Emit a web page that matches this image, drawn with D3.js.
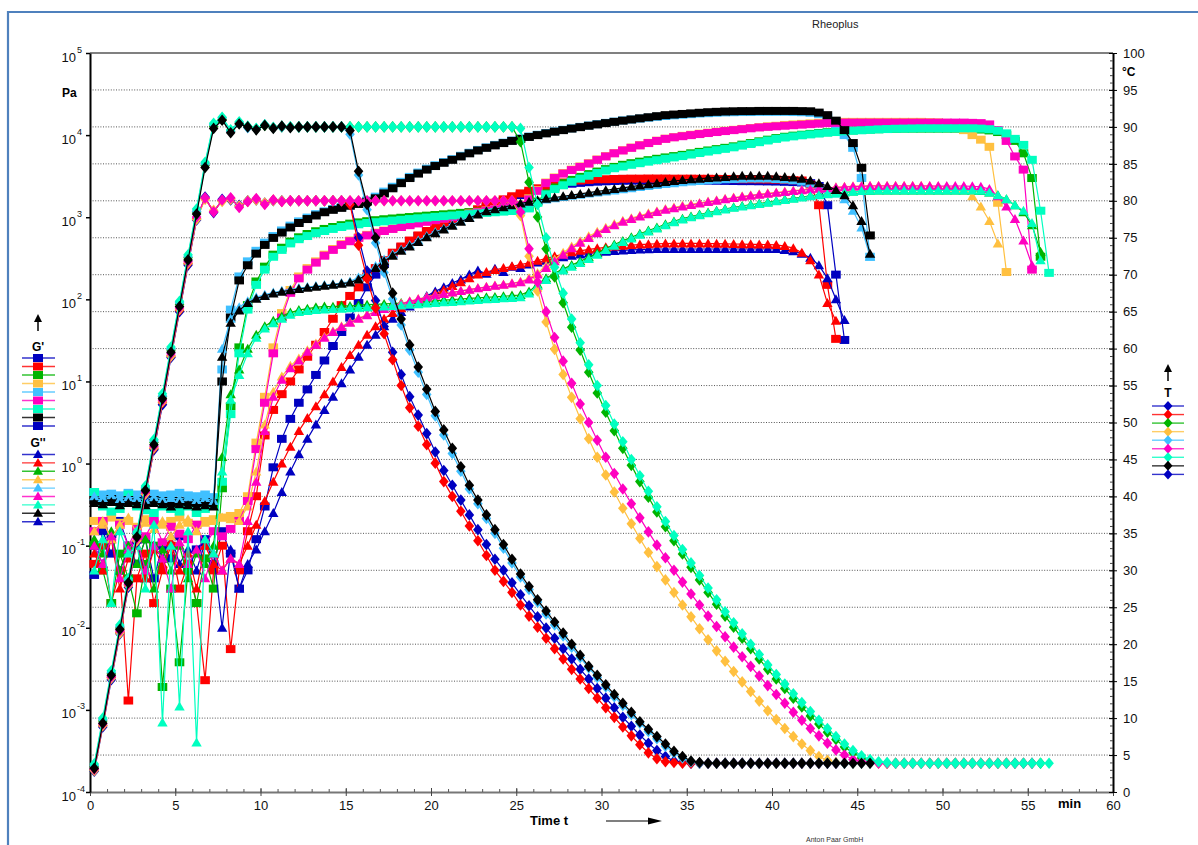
<!DOCTYPE html>
<html>
<head>
<meta charset="utf-8">
<script src="https://cdn.jsdelivr.net/npm/d3@7/dist/d3.min.js"></script>
<style>
html,body{margin:0;padding:0;background:#fff;}
svg{display:block;}
text{font-family:"Liberation Sans",Arial,Helvetica,sans-serif;}
</style>
</head>
<body>
<svg id="chart" width="1198" height="845"></svg>
<script>
// ================= DATA =================
const sampleColors = ["#0000c0","#ff0000","#00b400","#ffc040","#40c0ff","#ff00c0","#00ffc0","#000000","#0000c0"];
const timeStart = 0.25, timeStep = 0.5;           // minutes (measuring-point grid)
const timeTicks = [0,5,10,15,20,25,30,35,40,45,50,55,60];
const gTicks = [1e-4,1e-3,1e-2,1e-1,1e0,1e1,1e2,1e3,1e4,1e5];
const tempTicks = [0,5,10,15,20,25,30,35,40,45,50,55,60,65,70,75,80,85,90,95,100];

// ---- Temperature T [°C] ----
const tBlue = [2.8,8.8,15.2,21.4,27.7,33.8,40.1,46.3,52.4,58.8,
65,71.3,77.4,80.5,78.4,80.2,80.1,79.4,80,80.1,
79.7,80,80,80,80,80,80,80,80,80,
79.8,75,70.5,66.5,63,59.5,56.5,53.5,51,48.5,
46,43.5,41.5,39.5,37.5,35.5,33.5,31.5,30,28.3,
26.7,25.2,23.7,22.2,20.8,19.4,18,16.6,15.3,14,
12.7,11.4,10.1,8.9,7.7,6.6,5.6,4.8,4.2,4,
3.9,3.9,3.9,3.9,3.9,3.9,3.9,3.9,3.9,3.9,
3.9,3.9,3.9,3.9,3.9,3.9,3.9,3.9,3.9];
const tRed = [3,9,15.5,21.6,28,34,40.4,46.5,52.7,59,
65.2,71.5,77.6,80.3,78.6,80,80.3,79.2,79.9,80.2,
79.6,80.1,79.9,80,80,80,80,80,80,80,
79.5,74,69.5,65.5,62,58.5,55,52,49.5,47,
44.5,42,40,38,36,34,32,30,28.5,27,
25.3,23.8,22.3,20.8,19.4,18,16.6,15.3,14,12.7,
11.4,10.1,8.8,7.6,6.4,5.3,4.5,4.1,4,3.9,
3.9,3.9,3.9,3.9,3.9,3.9,3.9,3.9,3.9,3.9,
3.9,3.9,3.9,3.9,3.9,3.9,3.9,3.9];
const tGreen = [3.4,9.6,16,22.2,28.5,34.8,41,47.3,53.5,59.8,
66,72.3,78.5,84.8,90.1,91,89.4,90.5,90,89.7,
90.2,89.9,90,90,90,90,90,90,90,90,
90,90,90,90,90,90,90,90,90,90,
90,90,90,90,90,90,90,90,90,90,
88,82.5,77.8,73.5,69.7,66.2,62.9,59.8,56.8,54,
51.4,48.9,46.5,44.2,42,39.9,37.9,35.9,34,32.2,
30.4,28.7,27,25.4,23.8,22.3,20.8,19.4,18,16.6,
15.3,14,12.7,11.5,10.3,9.2,8.1,7.1,6.1,5.3,
4.6,4.2,4,3.9,3.9,3.9,3.9,3.9,3.9,3.9,
3.9,3.9,3.9,3.9,3.9,3.9,3.9,3.9,3.9,3.9,
3.9,3.9];
const tOrange = [2.9,9,15.4,21.5,27.9,34,40.3,46.6,52.8,59,
65.3,71.6,77.5,80.2,78.7,79.9,80.2,79.3,80,80.1,
79.7,80,80,80,80,80,80,80,80,80,
80,80,80,80,80,80,80,80,80,80,
80,80,80,80,80,80,80,80,80,80,
78,72.5,67.8,63.6,59.9,56.5,53.4,50.5,47.8,45.3,
42.9,40.6,38.4,36.3,34.3,32.4,30.5,28.7,27,25.3,
23.7,22.1,20.6,19.1,17.7,16.3,14.9,13.6,12.3,11,
9.8,8.6,7.5,6.5,5.6,4.8,4.3,4,3.9,3.9,
3.9,3.9,3.9,3.9,3.9,3.9,3.9,3.9,3.9,3.9,
3.9,3.9,3.9,3.9,3.9,3.9,3.9,3.9];
const tLightBlue = [3.6,9.8,16.2,22.4,28.7,35,41.2,47.5,53.6,60,
66.2,72.5,78.6,85,90.3,91.2,89.4,90.6,89.9,89.7,
90.3,89.9,90,90,90,90,90,90,90,90,
89,83.5,78.8,74.3,70.3,66.7,63.2,59.8,56.8,53.8,
50.9,48.3,45.8,43.4,41,39,37,35,33,31,
29.1,27.4,25.7,24.1,22.6,21.1,19.6,18.2,16.8,15.5,
14.2,12.9,11.7,10.5,9.3,8.2,7.2,6.2,5.3,4.6,
4.1,3.9,3.9,3.9,3.9,3.9,3.9,3.9,3.9,3.9,
3.9,3.9,3.9,3.9,3.9,3.9,3.9,3.9,3.9,3.9,
3.9,3.9];
const tMagenta = [3.1,9.2,15.6,21.8,28.1,34.3,40.6,46.8,53,59.3,
65.5,71.8,77.8,80.4,78.5,80.1,80.4,79.1,79.9,80.3,
79.5,80.1,79.9,80,80,80,80,80,80,80,
80,80,80,80,80,80,80,80,80,80,
80,80,80,80,80,80,80,80,80,80,
78.5,73.5,69,65,61.5,58.3,55.3,52.5,50,47.6,
45.3,43.1,41,39,37.1,35.2,33.4,31.7,30,28.4,
26.8,25.3,23.8,22.4,21,19.6,18.3,17,15.7,14.4,
13.2,12,10.8,9.7,8.6,7.6,6.6,5.7,5,4.4,
4.1,4,3.9,3.9,3.9,3.9,3.9,3.9,3.9,3.9,
3.9,3.9,3.9,3.9,3.9,3.9,3.9,3.9,3.9,3.9,
3.9];
const tAqua = [3.8,10,16.4,22.6,28.9,35.2,41.4,47.7,53.9,60.2,
66.4,72.7,78.9,85.2,90.5,91.3,89.6,90.7,90.1,89.8,
90.3,89.9,90.1,90,90,90,90,90,90,90,
90,90,90,90,90,90,90,90,90,90,
90,90,90,90,90,90,90,90,90,90,
89.8,84.5,79.5,75,71,67.5,64,60.8,57.8,55,
52.3,49.8,47.4,45,42.8,40.7,38.6,36.6,34.7,32.8,
31,29.3,27.6,26,24.4,22.9,21.4,20,18.6,17.2,
15.9,14.6,13.3,12.1,10.9,9.7,8.6,7.5,6.5,5.6,
4.9,4.4,4.1,4,3.9,3.9,3.9,3.9,3.9,3.9,
3.9,3.9,3.9,3.9,3.9,3.9,3.9,3.9,3.9,3.9,
3.9,3.9,3.9];
const tBlack = [3.2,9.3,15.8,22,28.3,34.5,40.8,47,53.2,59.5,
65.7,72,78.2,84.5,89.8,90.9,89.2,90.4,90,89.6,
90.2,89.8,90.1,89.9,90,90,90,90,90,90,
89.5,84,79.5,75,71,67.5,64,60.5,57.5,54.5,
51.5,49,46.5,44,41.5,39.5,37.5,35.5,33.5,31.5,
29.5,27.8,26,24.5,23,21.5,20,18.5,17,15.8,
14.5,13.2,12,10.8,9.5,8.5,7.5,6.5,5.5,4.8,
4.2,4,3.9,3.9,3.9,3.9,3.9,3.9,3.9,3.9,
3.9,3.9,3.9,3.9,3.9,3.9,3.9,3.9,3.9,3.9,
3.9,3.9];
const tBlue2 = [];

// ---- Storage modulus G' [Pa] ----
const gpBlue = [0.044,0.15,0.08,0.2,0.1,0.06,0.12,0.04,0.1,0.07,
0.13,0.05,0.09,0.12,0.06,0.15,0.08,0.03,0.05,0.12,
0.3,0.9,2,3.5,5.5,8,12,18,27,40,
60,90,140,200,270,350,430,510,590,670,
750,830,920,1010,1100,1200,1320,1440,1580,1720,
1860,2000,2130,2260,2380,2480,2560,2620,2670,2710,
2740,2760,2780,2790,2800,2800,2810,2810,2800,2800,
2800,2790,2790,2780,2770,2760,2750,2750,2740,2730,
2720,2700,2680,2650,2600,2400,1400,200,32];
const gpRed = [0.06,0.1,0.02,0.05,0.0013,0.04,0.08,0.02,0.05,0.1,
0.03,0.06,0.02,0.0023,0.05,0.1,0.0055,0.05,0.15,0.4,
2.2,4.5,7,10,14,20,28,40,58,85,
110,140,190,240,300,370,440,520,600,680,
760,850,950,1050,1150,1250,1380,1500,1650,1800,
1950,2100,2250,2400,2550,2650,2750,2800,2850,2900,
2900,2920,2940,2950,2950,2960,2960,2960,2950,2950,
2950,2940,2940,2930,2920,2910,2900,2900,2890,2880,
2870,2850,2820,2800,2500,1400,150,33];
const gpGreen = [0.1,0.05,0.02,0.08,0.04,0.015,0.06,0.1,0.0019,0.03,
0.0038,0.05,0.02,0.07,0.03,0.5,5,26,85,165,
250,350,425,505,570,625,675,720,760,800,
835,865,895,920,945,965,985,1005,1025,1045,
1065,1085,1105,1130,1150,1170,1190,1210,1230,1250,
1270,1320,1550,1950,2300,2600,2850,3100,3350,3600,
3850,4100,4350,4550,4750,4950,5150,5350,5550,5750,
6000,6250,6500,6750,7000,7300,7650,8000,8400,8800,
9200,9550,9850,10100,10350,10600,10850,11050,11250,11400,
11550,11700,11800,11900,11950,12000,12000,12000,12000,12000,
12000,12000,12000,11900,11700,11400,10900,10000,8500,6000,
3000,330];
const gpOrange = [0.2,0.18,0.22,0.19,0.2,0.17,0.21,0.19,0.18,0.2,
0.22,0.19,0.18,0.2,0.21,0.22,0.23,0.25,0.4,1.8,
6.5,26,68,130,190,240,290,350,410,470,
520,570,610,650,690,730,770,810,850,890,
930,970,1010,1060,1110,1160,1210,1260,1310,1360,
1420,1700,2150,2650,3050,3450,3800,4150,4550,5050,
5550,6050,6550,7050,7550,8050,8550,9050,9450,9800,
10100,10400,10700,11000,11300,11600,11900,12200,12500,12800,
13000,13300,13500,13700,13900,14100,14300,14400,14500,14500,
14500,14500,14500,14500,14500,14500,14500,14500,14400,14300,
14100,13200,11500,10000,8800,7200,1500,215];
const gpLightBlue = [0.45,0.42,0.43,0.41,0.44,0.42,0.40,0.43,0.41,0.42,
0.44,0.41,0.40,0.42,0.39,14,75,190,290,390,
490,590,690,790,890,990,1090,1180,1260,1330,
1400,1480,1600,1780,2050,2350,2700,3100,3500,3900,
4300,4700,5100,5600,6100,6600,7100,7600,8100,8600,
9100,9600,10100,10600,11100,11600,12100,12600,13100,13600,
14100,14600,15100,15500,15900,16300,16700,17100,17400,17700,
18000,18300,18500,18700,18900,19000,19100,19100,19200,19200,
19200,19200,19100,19000,18700,18000,16500,13500,10000,7000,
3000,330];
const gpMagenta = [0.15,0.2,0.12,0.18,0.1,0.16,0.13,0.2,0.11,0.17,
0.14,0.12,0.18,0.1,0.15,0.13,0.16,0.2,0.35,1.5,
5.5,22,60,120,180,230,280,340,400,460,
510,560,600,640,680,720,760,800,840,880,
920,960,1000,1050,1100,1150,1200,1250,1300,1350,
1400,1650,2100,2600,3000,3400,3750,4100,4500,5000,
5500,6000,6500,7000,7500,8000,8500,9000,9400,9700,
10000,10300,10600,10900,11200,11500,11800,12100,12400,12600,
12800,13000,13200,13400,13600,13800,14000,14100,14200,14200,
14200,14200,14200,14200,14200,14200,14200,14200,14200,14200,
14200,14200,14200,14100,14000,13500,11500,8500,5500,3800,
230];
const gpAqua = [0.45,0.3,0.26,0.28,0.42,0.3,0.27,0.25,0.3,0.28,
0.26,0.3,0.25,0.28,0.32,0.6,4,22,75,150,
230,330,400,480,540,590,640,680,720,760,
790,820,850,870,890,910,930,950,970,990,
1010,1030,1050,1070,1090,1110,1130,1150,1170,1190,
1210,1280,1500,1900,2200,2450,2700,2950,3200,3450,
3700,3950,4150,4350,4550,4750,4950,5150,5350,5550,
5800,6050,6300,6550,6800,7100,7450,7800,8200,8600,
9000,9350,9650,9950,10200,10450,10700,10900,11100,11300,
11450,11600,11750,11850,11950,12000,12050,12100,12100,12100,
12100,12100,12100,12100,12000,11800,11300,10500,9000,7600,
5000,1200,210];
const gpBlack = [0.36,0.35,0.37,0.34,0.36,0.35,0.34,0.36,0.35,0.33,
0.35,0.34,0.33,0.34,0.33,10,60,170,260,360,
460,560,650,750,850,950,1050,1150,1230,1300,
1380,1450,1550,1700,1950,2250,2600,3000,3400,3800,
4200,4600,5000,5500,6000,6500,7000,7500,8000,8500,
9000,9500,10000,10500,11000,11500,12000,12500,13000,13500,
14000,14500,15000,15500,16000,16500,17000,17500,17800,18100,
18400,18700,19000,19200,19400,19500,19600,19600,19700,19700,
19700,19700,19700,19600,19500,18800,17500,15000,11500,8000,
4000,600];
const gpBlue2 = [];

// ---- Loss modulus G'' [Pa] ----
const gppBlue = [0.1,0.06,0.14,0.05,0.09,0.12,0.04,0.1,0.07,0.13,
0.06,0.09,0.05,0.11,0.08,0.01,0.09,0.03,0.06,0.09,
0.15,0.25,0.45,0.8,1.3,2,3,4.5,6.5,9.5,
14,20,28,37,47,58,70,82,95,110,
125,140,158,175,200,225,205,235,215,250,
240,265,280,295,310,325,340,352,362,372,
380,388,394,400,404,408,410,410,410,410,
410,410,410,410,410,410,410,410,410,410,
410,400,385,360,320,260,180,100,56];
const gppRed = [0.08,0.05,0.12,0.03,0.07,0.1,0.04,0.09,0.06,0.11,
0.05,0.08,0.03,0.1,0.06,0.05,0.07,0.06,0.1,0.18,
0.35,0.6,1,1.6,2.5,3.6,5,7,10,15,
21,28,37,47,58,68,78,88,97,106,
117,130,145,162,180,200,215,228,240,252,
265,278,295,315,335,355,375,390,405,418,
430,440,450,458,465,470,475,478,480,480,
480,480,478,476,474,472,470,468,466,464,
460,445,420,370,300,200,90,55];
const gppGreen = [0.12,0.08,0.15,0.05,0.1,0.06,0.12,0.03,0.09,0.05,
0.1,0.04,0.08,0.06,0.1,1.2,7,14,25,37,
47,55,62,69,74,77,80,82,81,84,
83,85,86,87,88,89,90,92,93,95,
96,98,99,101,103,104,106,107,109,111,
113,125,152,180,208,235,262,290,325,365,
415,465,515,570,630,690,750,820,890,960,
1020,1080,1140,1200,1260,1320,1370,1420,1470,1520,
1580,1640,1700,1760,1820,1870,1920,1970,2010,2050,
2080,2100,2110,2120,2120,2120,2120,2120,2120,2120,
2120,2120,2110,2100,2080,2000,1850,1650,1400,1150,
800,380];
const gppOrange = [0.15,0.2,0.12,0.18,0.22,0.14,0.19,0.16,0.2,0.13,
0.18,0.21,0.15,0.19,0.2,0.22,0.21,0.2,0.3,0.8,
3,7.5,11.5,15.5,19,24,29,35,41,47,
53,59,65,71,77,83,89,95,101,107,
112,117,122,127,132,137,142,147,152,157,
165,180,210,255,305,370,440,510,585,665,
745,825,905,975,1045,1115,1185,1255,1315,1375,
1435,1495,1555,1615,1675,1735,1795,1855,1905,1955,
2005,2055,2105,2155,2205,2245,2285,2325,2355,2385,
2405,2420,2420,2420,2420,2420,2420,2420,2400,2380,
2350,2300,2200,1800,1350,900,480];
const gppLightBlue = [0.40,0.38,0.41,0.37,0.39,0.38,0.36,0.39,0.37,0.38,
0.37,0.39,0.36,0.38,0.35,25,58,80,95,106,
114,121,127,132,137,141,145,149,153,158,
165,185,215,255,305,355,405,460,520,590,
660,730,810,900,1000,1100,1190,1260,1330,1400,
1460,1520,1580,1640,1700,1760,1820,1880,1940,2000,
2060,2120,2190,2260,2330,2400,2470,2540,2600,2660,
2720,2770,2820,2860,2900,2930,2950,2960,2960,2960,
2930,2880,2820,2720,2580,2400,2200,1950,1650,1200,
750,330];
const gppMagenta = [0.1,0.06,0.13,0.04,0.09,0.12,0.05,0.1,0.07,0.03,
0.11,0.06,0.09,0.04,0.08,0.05,0.07,0.06,0.2,0.6,
2.5,6.5,10.5,14.5,18,23,28,34,40,46,
52,58,64,70,76,82,88,94,100,106,
111,116,121,126,131,136,141,146,151,156,
162,175,200,240,290,350,420,490,560,640,
720,800,880,950,1020,1090,1160,1230,1290,1350,
1410,1470,1530,1590,1650,1710,1770,1830,1880,1930,
1980,2030,2080,2130,2180,2220,2260,2300,2330,2360,
2380,2400,2400,2400,2400,2400,2400,2400,2400,2400,
2400,2400,2400,2380,2350,2200,1800,1350,950,520,
260];
const gppAqua = [0.05,0.12,0.02,0.15,0.08,0.1,0.03,0.18,0.0007,0.1,
0.0011,0.15,0.0004,0.12,0.08,0.8,6,12,22,34,
44,51,58,65,70,72,74,75,76,77,
78,79,80,81,82,83,84,86,87,89,
90,92,93,95,97,98,100,101,103,104,
106,118,145,172,200,225,250,277,310,350,
400,450,500,550,610,670,730,800,870,940,
1000,1060,1120,1180,1240,1300,1350,1400,1450,1500,
1560,1620,1680,1740,1800,1850,1900,1950,2000,2040,
2080,2100,2110,2120,2120,2120,2120,2120,2120,2120,
2120,2120,2120,2110,2100,2000,1850,1650,1400,1200,
850,300];
const gppBlack = [0.33,0.32,0.34,0.31,0.33,0.32,0.31,0.33,0.32,0.30,
0.32,0.31,0.30,0.31,0.30,20,52,73,90,102,
110,118,124,129,134,138,142,146,150,155,
160,175,200,240,290,340,390,440,500,570,
640,710,790,880,980,1080,1180,1250,1320,1400,
1470,1540,1610,1680,1740,1800,1860,1920,1990,2060,
2130,2200,2280,2360,2440,2520,2600,2680,2760,2840,
2900,2950,3000,3050,3100,3150,3200,3200,3200,3200,
3150,3100,3050,2950,2800,2600,2400,2150,1850,1400,
900,360];
const gppBlue2 = [];

// table built from the arrays above
const samples = [
  {color: sampleColors[0], gp: gpBlue,      gpp: gppBlue,      temp: tBlue},
  {color: sampleColors[1], gp: gpRed,       gpp: gppRed,       temp: tRed},
  {color: sampleColors[2], gp: gpGreen,     gpp: gppGreen,     temp: tGreen},
  {color: sampleColors[3], gp: gpOrange,    gpp: gppOrange,    temp: tOrange},
  {color: sampleColors[4], gp: gpLightBlue, gpp: gppLightBlue, temp: tLightBlue},
  {color: sampleColors[5], gp: gpMagenta,   gpp: gppMagenta,   temp: tMagenta},
  {color: sampleColors[6], gp: gpAqua,      gpp: gppAqua,      temp: tAqua},
  {color: sampleColors[7], gp: gpBlack,     gpp: gppBlack,     temp: tBlack},
  {color: sampleColors[8], gp: gpBlue2,     gpp: gppBlue2,     temp: tBlue2}
];

// ================= DRAWING =================
const svg = d3.select("#chart");
const FONT = '"Liberation Sans",Arial,Helvetica,sans-serif';
const x = d3.scaleLinear().domain([0,60]).range([90,1113]);
const yG = d3.scaleLog().domain([1e-4,1e5]).range([792,53]);
const yT = d3.scaleLinear().domain([0,100]).range([792,53]);

// page border
svg.append("path").attr("d","M8,845V12H1198").attr("fill","none")
  .attr("stroke","#4f81bd").attr("stroke-width",2.2);

svg.append("text").attr("x",812).attr("y",28).attr("font-size",11).attr("fill","#222").text("Rheoplus");
svg.append("text").attr("x",806).attr("y",842).attr("font-size",7).attr("fill","#333").text("Anton Paar GmbH");

// gridlines (dotted, at temperature ticks)
svg.append("g").selectAll("line").data(tempTicks.filter(d => d > 0 && d < 100)).join("line")
  .attr("x1",90).attr("x2",1113).attr("y1",d => yT(d)).attr("y2",d => yT(d))
  .attr("stroke","#555").attr("stroke-width",1).attr("stroke-dasharray","1,1.6");

// top frame line
svg.append("line").attr("x1",90).attr("x2",1113).attr("y1",yT(100)).attr("y2",yT(100))
  .attr("stroke","#808080").attr("stroke-width",2);

// bottom axis
const gxMinor = svg.append("g").attr("transform","translate(0,792)")
  .call(d3.axisBottom(x).tickValues(d3.range(0,61,1)).tickSizeInner(-3).tickSizeOuter(0).tickFormat(""));
gxMinor.select(".domain").attr("stroke","#777").attr("stroke-width",2);
gxMinor.selectAll(".tick line").attr("stroke","#555");
const gx = svg.append("g").attr("transform","translate(0,792)")
  .call(d3.axisBottom(x).tickValues(timeTicks).tickSizeInner(4).tickSizeOuter(0).tickPadding(5));
gx.select(".domain").remove();
gx.selectAll(".tick line").attr("stroke","#444").attr("y1",-4).attr("y2",4);
gx.selectAll("text").attr("font-size",13).attr("font-family",FONT).attr("fill","#111");

// left axis (log)
const gl = svg.append("g").attr("transform","translate(90,0)")
  .call(d3.axisLeft(yG).tickValues(gTicks).tickSizeInner(4).tickSizeOuter(0).tickFormat(""));
gl.select(".domain").attr("stroke","#000").attr("stroke-width",2);
gl.selectAll(".tick line").attr("stroke","#000").attr("stroke-width",1.5);
gl.selectAll(".tick").each(function(d){
  const g = d3.select(this);
  const e = Math.round(Math.log10(d));
  g.append("text").attr("x",-14).attr("y",8).attr("text-anchor","end")
    .attr("font-size",13).attr("font-family",FONT).attr("fill","#111").text("10");
  g.append("text").attr("x",-13).attr("y",-1).attr("text-anchor","start")
    .attr("font-size",9).attr("font-family",FONT).attr("fill","#111").text(String(e));
});

// right axis (temperature)
const grMinor = svg.append("g").attr("transform","translate(1113,0)")
  .call(d3.axisRight(yT).tickValues(d3.range(0,101,1)).tickSizeInner(-3).tickSizeOuter(0).tickFormat(""));
grMinor.select(".domain").attr("stroke","#000").attr("stroke-width",2);
grMinor.selectAll(".tick line").attr("stroke","#444");
const gr = svg.append("g").attr("transform","translate(1113,0)")
  .call(d3.axisRight(yT).tickValues(tempTicks).tickSizeInner(4).tickSizeOuter(0).tickPadding(6));
gr.select(".domain").remove();
gr.selectAll(".tick line").attr("stroke","#000").attr("x1",-4).attr("x2",4);
gr.selectAll("text").attr("font-size",13).attr("font-family",FONT).attr("fill","#111");

// unit labels
svg.append("text").attr("x",62).attr("y",97).attr("font-size",12).attr("font-weight","bold").text("Pa");
svg.append("text").attr("x",1122).attr("y",76).attr("font-size",12).attr("font-weight","bold").text("°C");
svg.append("text").attr("x",1058).attr("y",808).attr("font-size",13).attr("font-weight","bold").text("min");
svg.append("text").attr("x",530).attr("y",825).attr("font-size",13).attr("font-weight","bold").text("Time t");
svg.append("line").attr("x1",606).attr("x2",650).attr("y1",821).attr("y2",821).attr("stroke","#000").attr("stroke-width",1.2);
svg.append("path").attr("d","M648,817.5L662,821L648,824.5Z").attr("fill","#000");

// marker shapes
const shapes = {
  gp:   "M-4.8,-4h9.6v8h-9.6z",
  gpp:  "M0,-5L5.2,4H-5.2Z",
  temp: "M0,-5.8L4.8,0L0,5.8L-4.8,0Z"
};
const yFor = {gp: yG, gpp: yG, temp: yT};

function toPoints(arr){ return arr.map((v,i) => ({t: timeStart + i*timeStep, v})); }

const plot = svg.append("g");
["gp","gpp","temp"].forEach(kind => {
  samples.forEach(s => {
    const pts = toPoints(s[kind]);
    if (!pts.length) return;
    const ys = yFor[kind];
    const g = plot.append("g");
    g.append("path").datum(pts)
      .attr("d", d3.line().x(d => x(d.t)).y(d => ys(d.v)))
      .attr("fill","none").attr("stroke",s.color).attr("stroke-width",1.2);
    g.selectAll("path.m").data(pts).join("path").attr("class","m")
      .attr("d", shapes[kind])
      .attr("transform", d => `translate(${x(d.t)},${ys(d.v)})`)
      .attr("fill", s.color);
  });
});

// ----- legends -----
function arrow(g, cx, yTop){
  g.append("line").attr("x1",cx).attr("x2",cx).attr("y1",yTop+17).attr("y2",yTop+6).attr("stroke","#000").attr("stroke-width",1.5);
  g.append("path").attr("d",`M${cx-4},${yTop+8}L${cx},${yTop}L${cx+4},${yTop+8}Z`).attr("fill","#000");
}
const lg = svg.append("g");
arrow(lg, 38, 314);
lg.append("text").attr("x",38).attr("y",351).attr("text-anchor","middle").attr("font-size",12).attr("font-weight","bold").text("G'");
lg.append("text").attr("x",38).attr("y",447).attr("text-anchor","middle").attr("font-size",12).attr("font-weight","bold").text("G''");
samples.forEach((s,i) => {
  const y1 = 358 + i*8.5;
  lg.append("line").attr("x1",22).attr("x2",55).attr("y1",y1).attr("y2",y1).attr("stroke",s.color).attr("stroke-width",1.4).attr("stroke-opacity",0.8);
  lg.append("path").attr("d","M-5,-4h10v8h-10z").attr("transform",`translate(38,${y1})`).attr("fill",s.color);
  const y2 = 454.5 + i*8.4;
  lg.append("line").attr("x1",22).attr("x2",55).attr("y1",y2).attr("y2",y2).attr("stroke",s.color).attr("stroke-width",1.4).attr("stroke-opacity",0.8);
  lg.append("path").attr("d","M0,-5L5,3.5H-5Z").attr("transform",`translate(38,${y2})`).attr("fill",s.color);
});
const rg = svg.append("g");
arrow(rg, 1168, 364);
rg.append("text").attr("x",1168).attr("y",397).attr("text-anchor","middle").attr("font-size",12).attr("font-weight","bold").text("T");
samples.forEach((s,i) => {
  const y = 406 + i*8.55;
  rg.append("line").attr("x1",1152).attr("x2",1184).attr("y1",y).attr("y2",y).attr("stroke",s.color).attr("stroke-width",1.4).attr("stroke-opacity",0.8);
  rg.append("path").attr("d","M0,-5L4.5,0L0,5L-4.5,0Z").attr("transform",`translate(1168,${y})`).attr("fill",s.color);
});
</script>
</body>
</html>
